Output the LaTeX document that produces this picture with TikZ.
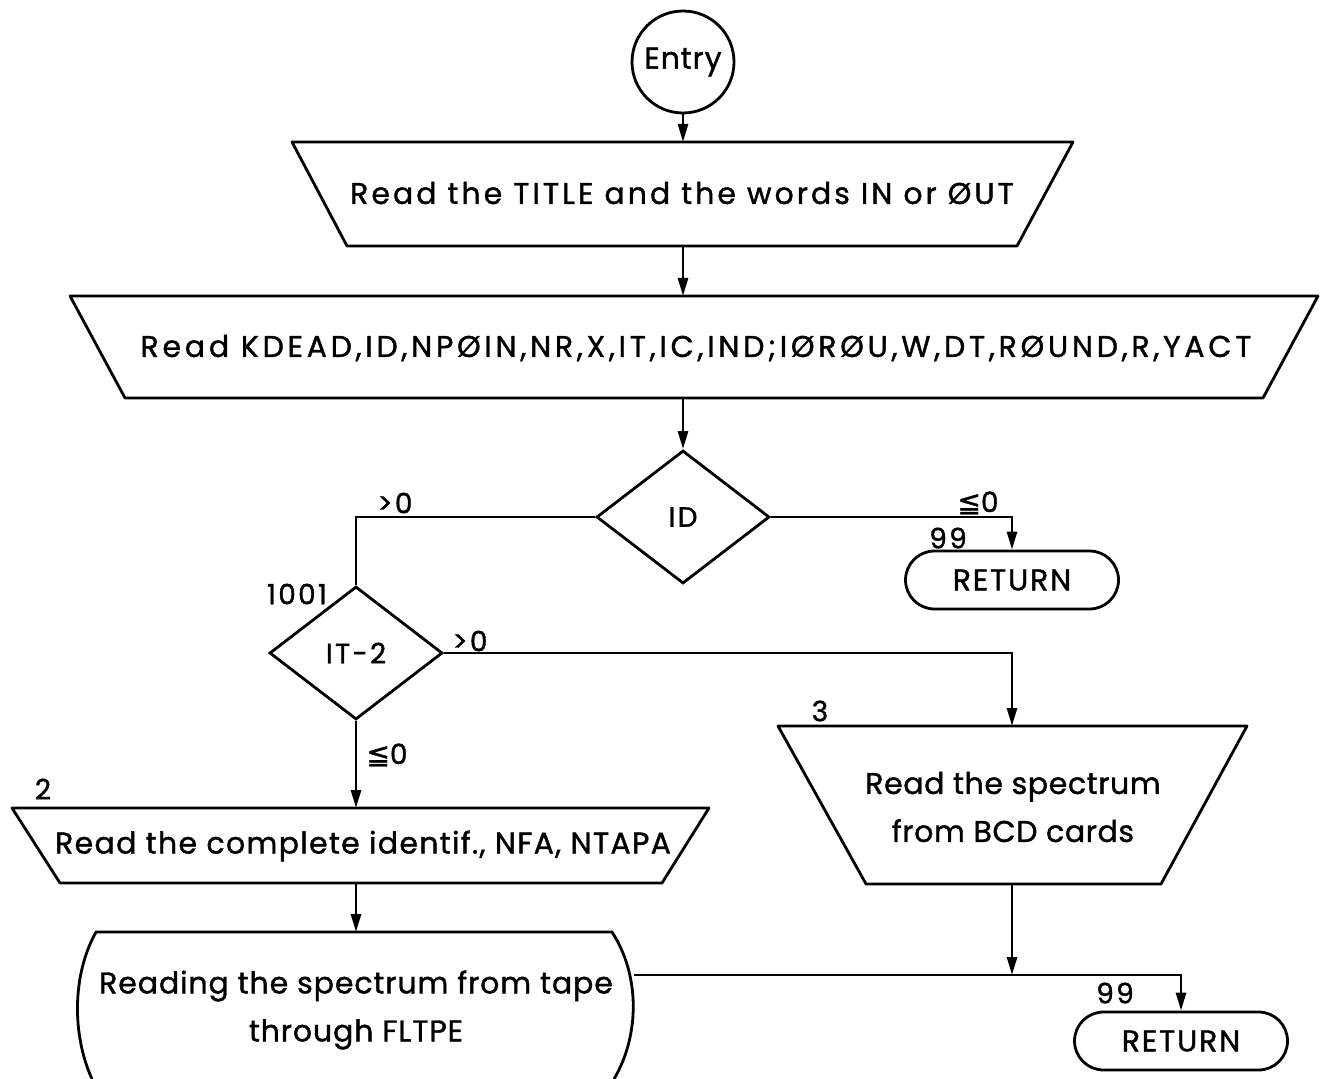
\documentclass[tikz,border=0pt]{standalone}
\usepackage{fontspec}
\setmainfont{Poppins}[LetterSpace=8,FakeBold=1.2]
\newfontfamily\symfont{DejaVu Sans}[FakeBold=1.2]
\usetikzlibrary{arrows.meta,shapes.geometric,shapes.misc}

\begin{document}
\begin{tikzpicture}[x=0.5pt,y=-0.5pt,line width=1.4pt,
  txt/.style={font=\fontsize{15}{24}\selectfont\addfontfeature{LetterSpace=#1},inner sep=0pt,align=center},
  txt/.default=8,
  lbl/.style={font=\fontsize{14}{15}\selectfont,inner sep=0pt},
  flow/.style={-{Triangle[length=9pt,width=5pt]}},
  decision/.style={draw,diamond,inner sep=0pt,minimum width=86.5pt,minimum height=66.5pt,font=\fontsize{14}{15}\selectfont},
  retbox/.style={draw,rounded rectangle,inner sep=0pt,minimum width=106.5pt,minimum height=29pt,font=\fontsize{15}{16}\selectfont\addfontfeature{LetterSpace=6}},
  shapeline/.style={line join=round}]
\useasboundingbox (0,0) rectangle (1320,1079);
\fill[white] (0,0) rectangle (1320,1079);

% entry point
\node[draw,circle,minimum size=51pt,inner sep=0pt,font=\fontsize{15}{16}\selectfont\addfontfeature{LetterSpace=3}] (entry) at (683,62) {Entry};

% first input block
\draw[shapeline] (292,142) -- (1073,142) -- (1017,246) -- (347,246) -- cycle;
\coordinate (in1n) at (683,142);
\coordinate (in1s) at (683,246);
\node[txt=10] (in1) at (682,193) {Read the TITLE and the words IN or ØUT};

% second input block
\draw[shapeline] (70,296) -- (1318,296) -- (1263,398) -- (125,398) -- cycle;
\coordinate (in2n) at (683,296);
\coordinate (in2s) at (683,398);
\node[txt=12.5] (in2) at (696,348) {Read KDEAD,ID,NPØIN,NR,X,IT,IC,IND;IØRØU,W,DT,RØUND,R,YACT};

% decisions
\node[decision] (id) at (683,517) {ID};
\node[decision] (it) at (356,653) {IT-2};
\coordinate (corner) at (356,517);

% returns
\node[retbox] (ret1) at (1012,580) {RETURN};
\node[retbox] (ret2) at (1181,1041) {RETURN};

% spectrum from cards
\draw[shapeline] (778,726) -- (1247,726) -- (1161,884) -- (866,884) -- cycle;
\coordinate (cardn) at (1012,726);
\coordinate (cards) at (1012,884);
\node[txt=2] (card) at (1013,807) {Read the spectrum\\from BCD cards};

% identification block
\draw[shapeline] (12,808) -- (709,808) -- (662,883) -- (60,883) -- cycle;
\coordinate (identn) at (356,808);
\coordinate (idents) at (356,883);
\node[txt=4.4] (ident) at (363,846) {Read the complete identif., NFA, NTAPA};

% tape reading block
\draw[shapeline] (92,1079) .. controls (72,1035) and (72,975) .. (96,932)
  -- (612,932) .. controls (640,975) and (640,1035) .. (614,1079);
\coordinate (tapen) at (356,932);
\coordinate (tapee) at (634,975);
\coordinate (merge) at (1012,975);
\node[txt=3] (tape) at (356,1010) {Reading the spectrum from tape\\through FLTPE};

% connectors
\draw[flow] (entry) -- (in1n);
\draw[flow] (in1s) -- (in2n);
\draw[flow] (in2s) -- (id.north);
\draw (id.west) -- (corner) -- (it.north);
\draw[flow] (id.east) -| (ret1.north);
\draw[flow] (it.east) -| (cardn);
\draw[flow] (it.south) -- (identn);
\draw[flow] (idents) -- (tapen);
\draw[flow] (cards) -- (merge);
\draw[flow] (tapee) -| (ret2.north);

% labels
\node[lbl] (l1) at (395,503) {>0};
\node[lbl] (l2) at (978,503) {{\symfont ≦}0};
\node[lbl] (l3) at (948,538) {99};
\node[lbl] (l4) at (297,594) {1001};
\node[lbl] (l5) at (470,641) {>0};
\node[lbl] (l6) at (387,755) {{\symfont ≦}0};
\node[lbl] (l7) at (43,789) {2};
\node[lbl] (l8) at (820,711) {3};
\node[lbl] (l9) at (1115,993) {99};
\end{tikzpicture}
\end{document}
